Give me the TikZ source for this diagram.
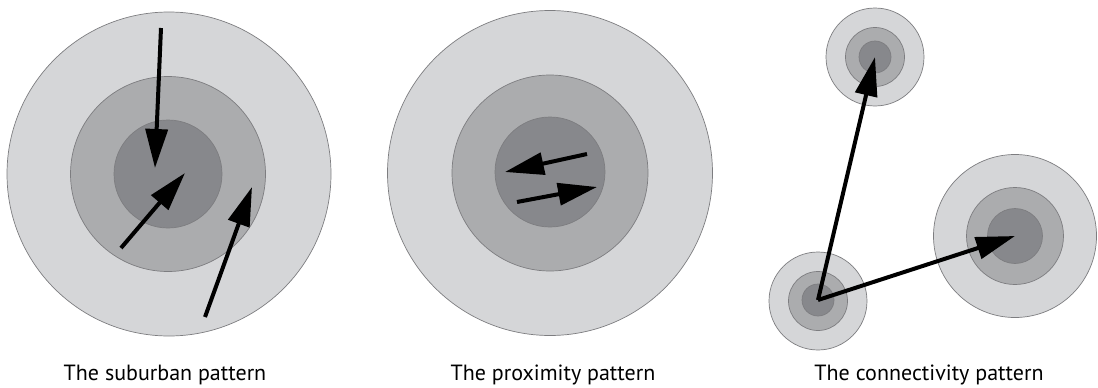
\documentclass[tikz,border=0pt]{standalone}
\usepackage{fontspec}
\setmainfont{PT Sans}
\usepackage{xcolor}
\usepackage{tikz}
\usetikzlibrary{arrows.meta}
\usetikzlibrary{positioning}

\definecolor{zoneOuter}{RGB}{213,214,216}
\definecolor{zoneMid}{RGB}{171,172,174}
\definecolor{zoneCore}{RGB}{135,136,140}
\definecolor{zoneEdge}{RGB}{125,125,128}

\begin{document}
\begin{tikzpicture}[
  x=1pt, y=-1pt,
  ring/.style={circle, draw=zoneEdge, line width=0.7pt, inner sep=0pt},
  outer/.style={ring, fill=zoneOuter},
  mid/.style={ring, fill=zoneMid},
  core/.style={ring, fill=zoneCore},
  flow/.style={line width=4pt, -{Triangle[length=39pt, width=22pt]}},
  caption/.style={font=\fontsize{22}{26}\selectfont, anchor=base},
]
\useasboundingbox (0,0) rectangle (1098,388);

  % Suburban
  \node[outer, minimum size=324pt] (sO) at (169,174) {};
  \node[mid,   minimum size=195pt] (sM) at (168,174) {};
  \node[core,  minimum size=108pt] (sC) at (168,174) {};

  % Proximity
  \node[outer, minimum size=325pt] (pO) at (550,173) {};
  \node[mid,   minimum size=196pt] (pM) at (550,173) {};
  \node[core,  minimum size=110pt] (pC) at (550,172) {};

  % Connectivity
  \node[outer, minimum size=98pt]  (tO) at (875,57) {};
  \node[mid,   minimum size=59pt]  (tM) at (875,57) {};
  \node[core,  minimum size=32pt]  (tC) at (875,57) {};
  \node[outer, minimum size=98pt]  (bO) at (818,301) {};
  \node[mid,   minimum size=59pt]  (bM) at (818,301) {};
  \node[core,  minimum size=32pt]  (bC) at (818,300) {};
  \node[outer, minimum size=163pt] (rO) at (1015,236) {};
  \node[mid,   minimum size=97pt]  (rM) at (1015,236) {};
  \node[core,  minimum size=55pt]  (rC) at (1015,236) {};

  % Arrow ends
  \coordinate (s1a) at (161,28);  \coordinate (s1b) at (155,168);
  \coordinate (s2a) at (121,248); \coordinate (s2b) at (185,173);
  \coordinate (s3a) at (205,317); \coordinate (s3b) at (252,187);
  \coordinate (p1a) at (587,154); \coordinate (p1b) at (505,172);
  \coordinate (p2a) at (517,202); \coordinate (p2b) at (597,187);

  % Edges
  \draw[flow] (s1a) -- (s1b);
  \draw[flow] (s2a) -- (s2b);
  \draw[flow] (s3a) -- (s3b);
  \draw[flow] (p1a) -- (p1b);
  \draw[flow] (p2a) -- (p2b);
  \draw[flow] (bC.center) -- (tC.center);
  \draw[flow] (bC.center) -- (rC.center);

  % Captions
  \node[caption] (capS) at (165,380) {The suburban pattern};
  \node[caption] (capP) at (553,380) {The proximity pattern};
  \node[caption] (capC) at (929,380) {The connectivity pattern};
\end{tikzpicture}
\end{document}
